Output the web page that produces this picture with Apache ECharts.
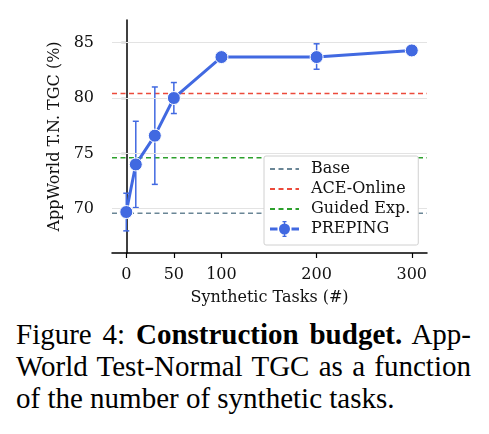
<!DOCTYPE html>
<html>
<head>
<meta charset="utf-8">
<script src="https://cdn.jsdelivr.net/npm/echarts@6/dist/echarts.min.js"></script>
<style>
  body { margin: 0; background: #fff; }
  #main { width: 489px; height: 312px; }
  .caption { position: absolute; left: 16px; top: 318px; width: 455px;
    font-family: "Liberation Serif", serif; font-size: 29px; line-height: 32px; color: #000; }
  .caption div { white-space: nowrap; text-align: justify; text-align-last: justify; }
  .caption div.last { text-align-last: left; }
</style>
</head>
<body>
<div id="main"></div>
<div class="caption">
  <div>Figure 4: <b>Construction budget.</b> App-</div>
  <div>World Test-Normal TGC as a function</div>
  <div class="last">of the number of synthetic tasks.</div>
</div>
<script>
// data
var tasks = [0, 10, 30, 50, 100, 200, 300]
var preping = [69.7, 74.0, 76.6, 80.0, 83.7, 83.7, 84.3]
var errLow = [68.0, 70.1, 72.2, 78.6, 83.7, 82.6, 84.3]
var errHigh = [71.4, 77.9, 81.0, 81.4, 83.7, 84.9, 84.3]
var baseVal = 69.6
var aceVal = 80.4
var guidedVal = 74.6
var xTicks = [0, 50, 100, 200, 300]
var yTicks = [70, 75, 80, 85]
var xMin = -15, xMax = 316
var yMin = 66.0, yMax = 87.05

var blue = '#4169e1'
var serif = '"DejaVu Serif", serif'
var dash = [5, 3.5]

// legend marker for PREPING: line pieces + dot + error bar (29x16 box)
var prepingIcon = 'path://M0,6.5h7.5v3h-7.5z M21.5,6.5h7.5v3h-7.5z ' +
  'M9,8a5.5,5.5 0 1 1 11,0a5.5,5.5 0 1 1 -11,0z ' +
  'M13.8,0h1.4v16h-1.4z M12.5,0h4v1.3h-4z M12.5,14.7h4v1.3h-4z'

var myChart = echarts.init(document.getElementById('main'))

function flat(v) { return [[xMin, v], [xMax, v]] }

var errData = tasks.map(function (t, i) { return [t, errLow[i], errHigh[i]] })

var option = {
  animation: false,
  grid: { left: 112, right: 62, top: 20, bottom: 59 },
  xAxis: {
    type: 'value', min: xMin, max: xMax,
    name: 'Synthetic Tasks (#)', nameLocation: 'middle', nameGap: 37,
    nameTextStyle: { fontFamily: serif, fontSize: 16, color: '#111' },
    axisLine: { onZero: false, lineStyle: { color: '#000', width: 1.5 } },
    axisTick: { customValues: xTicks, length: 5, lineStyle: { color: '#000', width: 1.2 } },
    axisLabel: { customValues: xTicks, fontFamily: serif, fontSize: 16, color: '#111', margin: 14 },
    splitLine: { show: false }
  },
  yAxis: {
    type: 'value', min: yMin, max: yMax,
    name: 'AppWorld T.N. TGC (%)', nameLocation: 'middle', nameGap: 44,
    nameTextStyle: { fontFamily: serif, fontSize: 16, color: '#111' },
    axisLine: { show: true, lineStyle: { color: '#000', width: 1.5 } },
    axisTick: { show: true, customValues: yTicks, length: 5, lineStyle: { color: '#000', width: 1.2 } },
    axisLabel: { customValues: yTicks, fontFamily: serif, fontSize: 16, color: '#111', margin: 18 },
    splitLine: { show: false }
  },
  legend: {
    orient: 'vertical', left: 264, top: 156, z: 20,
    padding: [5, 8, 8, 5], itemWidth: 29, itemHeight: 16, itemGap: 4,
    backgroundColor: '#fff', borderColor: '#d0d0d0', borderWidth: 1, borderRadius: 2,
    textStyle: { fontFamily: serif, fontSize: 16, color: '#111', padding: [0, 0, 0, 7] },
    data: [
      { name: 'Base', itemStyle: { opacity: 0 } },
      { name: 'ACE-Online', itemStyle: { opacity: 0 } },
      { name: 'Guided Exp.', itemStyle: { opacity: 0 } },
      { name: 'PREPING', icon: prepingIcon, itemStyle: { color: blue, borderWidth: 0 } }
    ]
  },
  series: [
    {
      name: 'grid', type: 'line', data: [], silent: true,
      markLine: {
        symbol: 'none', silent: true, label: { show: false },
        lineStyle: { color: '#e3e3e3', width: 1.2, type: 'solid' },
        data: yTicks.map(function (v) { return { yAxis: v } })
      }
    },
    {
      name: 'Base', type: 'line', data: flat(baseVal), symbol: 'none', z: 3,
      lineStyle: { color: '#6a8696', width: 1.5, type: dash },
      itemStyle: { color: '#6a8696' }
    },
    {
      name: 'ACE-Online', type: 'line', data: flat(aceVal), symbol: 'none', z: 3,
      lineStyle: { color: '#ec4a3b', width: 1.5, type: dash },
      itemStyle: { color: '#ec4a3b' }
    },
    {
      name: 'Guided Exp.', type: 'line', data: flat(guidedVal), symbol: 'none', z: 3,
      lineStyle: { color: '#2ca02c', width: 1.5, type: dash },
      itemStyle: { color: '#2ca02c' }
    },
    {
      name: 'PREPING', type: 'line', z: 5,
      data: tasks.map(function (t, i) { return [t, preping[i]] }),
      symbol: 'circle', symbolSize: 13,
      lineStyle: { color: blue, width: 3 },
      itemStyle: { color: blue, borderColor: '#fff', borderWidth: 1 }
    },
    {
      name: 'err', type: 'custom', z: 4,
      data: errData,
      renderItem: function (params, api) {
        var x = api.value(0)
        var lo = api.coord([x, api.value(1)])
        var hi = api.coord([x, api.value(2)])
        if (Math.abs(lo[1] - hi[1]) < 1) return
        var c = 3
        var st = { stroke: blue, lineWidth: 1.5 }
        return {
          type: 'group',
          children: [
            { type: 'line', shape: { x1: lo[0], y1: lo[1], x2: hi[0], y2: hi[1] }, style: st },
            { type: 'line', shape: { x1: lo[0] - c, y1: lo[1], x2: lo[0] + c, y2: lo[1] }, style: st },
            { type: 'line', shape: { x1: hi[0] - c, y1: hi[1], x2: hi[0] + c, y2: hi[1] }, style: st }
          ]
        }
      }
    }
  ]
}

myChart.setOption(option)
</script>
</body>
</html>
